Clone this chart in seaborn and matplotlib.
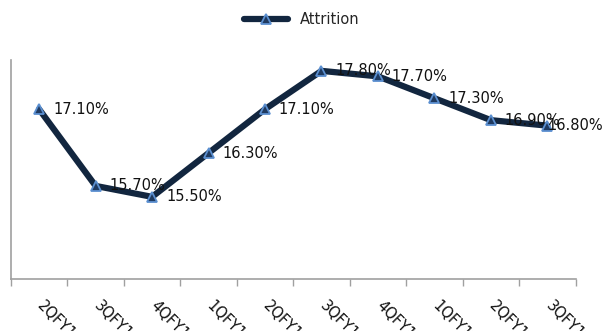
import numpy as np
import pandas as pd
import matplotlib
matplotlib.use("Agg")
import matplotlib.pyplot as plt
import matplotlib.transforms as mtransforms
import seaborn as sns

quarters = ["2QFY10", "3QFY10", "4QFY10", "1QFY11", "2QFY11",
            "3QFY11", "4QFY11", "1QFY12", "2QFY12", "3QFY12"]
attrition = [17.1, 15.7, 15.5, 16.3, 17.1, 17.8, 17.7, 17.3, 16.9, 16.8]

sns.set_style("white")
plt.rcParams['font.family'] = ['DejaVu Sans']

df = pd.DataFrame({"quarter": quarters, "Attrition": attrition})
df["pos"] = np.arange(len(df))

fig = plt.figure(figsize=(6.04, 3.31), dpi=100)
ax = fig.add_axes([0.018, 0.157, 0.935, 0.662])

sns.lineplot(data=df, x="pos", y="Attrition", ax=ax, color="#12263f",
             linewidth=4.5, marker="^", markersize=7,
             markerfacecolor="#1f3a60", markeredgecolor="#5b8fd0",
             markeredgewidth=1.3, label="Attrition")

# data labels to the right of each point (last one nudged in to fit)
for i, (x, y) in enumerate(zip(df["pos"], df["Attrition"])):
    dx = 0 if i == len(df) - 1 else 10
    ax.annotate(f"{y:.2f}%", (x, y), xytext=(dx, 0), textcoords="offset points",
                va="center", ha="left", fontsize=10.5, color="#111111")

ax.set_xlim(-0.5, len(df) - 0.5)
ax.set_ylim(14, 18)
ax.set_xticks(np.arange(-0.5, len(df), 1.0), minor=False)
ax.set_xticklabels([])
ax.set_xticks(df["pos"], minor=True)
ax.set_xticklabels(quarters, minor=True, rotation=-45, ha="left", va="top",
                   rotation_mode="anchor", fontsize=10.5, color="#111111")
ax.tick_params(axis="x", which="major", length=5, width=1, color="#a0a0a0",
               direction="out", bottom=True)
ax.tick_params(axis="x", which="minor", length=0, pad=14)
shift = mtransforms.ScaledTranslation(6 / 100, 0, fig.dpi_scale_trans)
for lbl in ax.get_xticklabels(minor=True):
    lbl.set_transform(lbl.get_transform() + shift)
ax.set_yticks([])
ax.set_xlabel("")
ax.set_ylabel("")

for side in ["top", "right"]:
    ax.spines[side].set_visible(False)
for side in ["left", "bottom"]:
    ax.spines[side].set_color("#a0a0a0")
    ax.spines[side].set_linewidth(1.2)

leg = ax.legend(loc="center", bbox_to_anchor=(0.5, 0.94),
                bbox_transform=fig.transFigure, frameon=False,
                fontsize=10.5, handlelength=3, borderaxespad=0)

fig.savefig("out.png", dpi=100)
